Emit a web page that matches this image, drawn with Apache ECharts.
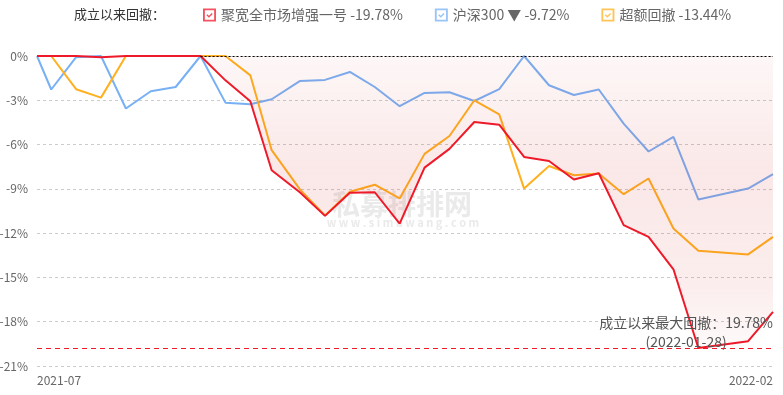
<!DOCTYPE html>
<html><head><meta charset="utf-8">
<script src="https://cdn.jsdelivr.net/npm/echarts@6/dist/echarts.min.js"></script>
<style>html,body{margin:0;padding:0;background:#fff}#c{width:783px;height:395px}</style>
</head><body><div id="c"></div>
<script>
const dates = ['2021-07-26','2021-07-30','2021-08-06','2021-08-13','2021-08-20','2021-08-27','2021-09-03','2021-09-10','2021-09-17','2021-09-24','2021-09-30','2021-10-08','2021-10-15','2021-10-22','2021-10-29','2021-11-05','2021-11-12','2021-11-19','2021-11-26','2021-12-03','2021-12-10','2021-12-17','2021-12-24','2021-12-31','2022-01-07','2022-01-14','2022-01-21','2022-01-28','2022-02-11','2022-02-18'];
const fundDD = [0,0,0,-0.08,0,0,0,0,-1.65,-3.07,-7.74,-9.25,-10.83,-9.27,-9.23,-11.35,-7.56,-6.29,-4.47,-4.65,-6.84,-7.11,-8.37,-7.94,-11.46,-12.25,-14.45,-19.78,-19.32,-17.33];
const hs300DD = [0,-2.27,-0.08,0,-3.56,-2.39,-2.1,0,-3.16,-3.27,-2.93,-1.69,-1.62,-1.08,-2.1,-3.4,-2.5,-2.46,-3.05,-2.25,0,-1.98,-2.64,-2.27,-4.58,-6.47,-5.48,-9.72,-8.98,-8.0];
const excessDD = [0,0,-2.25,-2.82,0,0,0,0,0,-1.31,-6.38,-9.05,-10.8,-9.2,-8.72,-9.65,-6.63,-5.42,-3.0,-3.95,-8.98,-7.45,-8.08,-7.96,-9.36,-8.3,-11.69,-13.2,-13.44,-12.25];
const seriesNames = ['聚宽全市场增强一号','沪深300','超额回撤'];
const legendSuffix = [' -19.78%',' ▼ -9.72%',' -13.44%'];
const legendTitle = '成立以来回撤：';
const yMin = -21, yMax = 0, yInterval = 3;
const maxDD = -19.78;
const maxDDDate = '2022-01-28';

const ts = dates.map(d => Date.parse(d));
const pairs = arr => arr.map((v, i) => [ts[i], v]);
const troughIdx = dates.indexOf(maxDDDate);
let peakIdx = 0;
for (let i = 0; i <= troughIdx; i++) if (fundDD[i] === 0) peakIdx = i;
const fmtMonth = v => { const d = new Date(v); return d.getUTCFullYear() + '-' + String(d.getUTCMonth() + 1).padStart(2, '0'); };
const last = ts.length - 1;
const checkIcon = 'path://M0,0 H14 V14 H0 Z M2,2 V12 H12 V2 Z M3.6,7.2 L4.7,6.1 L6.4,7.8 L9.4,4.8 L10.5,5.9 L6.4,10 Z';
const FONT = "'Noto Sans CJK SC','Noto Sans',sans-serif";

const chart = echarts.init(document.getElementById('c'));
chart.setOption({
  animation: false,
  textStyle: { fontFamily: FONT },
  title: { text: legendTitle, left: 69, top: 3, textStyle: { fontSize: 13, fontWeight: 'normal', color: '#333', fontFamily: FONT } },
  legend: {
    left: 198, top: 3, itemWidth: 13, itemHeight: 13, itemGap: 32,
    icon: checkIcon,
    itemStyle: { borderWidth: 0, opacity: 0.75 },
    data: seriesNames,
    formatter: name => name + legendSuffix[seriesNames.indexOf(name)],
    textStyle: { color: '#666', fontSize: 14, fontFamily: FONT }
  },
  grid: { left: 37, right: 10, top: 56, bottom: 29, containLabel: false, outerBoundsMode: 'none' },
  xAxis: {
    type: 'value', min: ts[0], max: ts[last], interval: ts[last] - ts[0],
    axisLine: { show: false }, axisTick: { show: false }, splitLine: { show: false },
    axisLabel: { color: '#666', fontSize: 12, margin: 8, showMinLabel: true, showMaxLabel: true,
      alignMinLabel: 'left', alignMaxLabel: 'right',
      formatter: v => fmtMonth(v) }
  },
  yAxis: {
    type: 'value', min: yMin, max: yMax, interval: yInterval,
    axisLine: { show: false }, axisTick: { show: false },
    axisLabel: { color: '#666', fontSize: 12, margin: 9, formatter: '{value}%' },
    splitLine: { lineStyle: { color: '#ccc', type: [3, 3], width: 1 } }
  },
  graphic: [
    { type: 'text', x: 402, y: 190, z: -10, style: { text: '私募排排网', textAlign: 'center', fill: '#eaeaea', font: 'bold 28px ' + FONT } },
    { type: 'text', x: 403, y: 217, z: -10, style: { text: 'w w w . s i m u w a n g . c o m', textAlign: 'center', fill: '#eaeaea', font: 'bold 11px ' + FONT } }
  ],
  series: [
    { name: seriesNames[1], type: 'line', data: pairs(hs300DD), showSymbol: false, symbol: 'none', z: 2,
      lineStyle: { width: 2, color: '#78b0f5' }, itemStyle: { color: '#78b0f5' } },
    { name: seriesNames[2], type: 'line', data: pairs(excessDD), showSymbol: false, symbol: 'none', z: 3,
      lineStyle: { width: 2, color: '#ffb01f' }, itemStyle: { color: '#ffb01f' } },
    { name: seriesNames[0], type: 'line', data: pairs(fundDD), showSymbol: false, symbol: 'none', z: 4,
      lineStyle: { width: 2, color: '#ee1a2a' }, itemStyle: { color: '#ee1a2a' },
      areaStyle: { color: { type: 'linear', x: 0, y: 0, x2: 0, y2: 1, colorStops: [
        { offset: 0, color: 'rgba(210,30,30,0.05)' },
        { offset: 0.4, color: 'rgba(210,30,30,0.15)' },
        { offset: 0.8, color: 'rgba(210,30,30,0.11)' },
        { offset: 1, color: 'rgba(210,30,30,0.03)' } ] } },
      markLine: {
        silent: true, symbol: ['none', 'none'],
        data: [
          { yAxis: maxDD, lineStyle: { color: '#ee1a2a', type: [5, 4], width: 1 },
            label: { show: true, position: 'insideEndTop', distance: [0, -3],
              formatter: '{a|成立以来最大回撤：' + Math.abs(maxDD).toFixed(2) + '%}\n{b|(' + maxDDDate + ')}',
              rich: { a: { fontSize: 14, color: '#555', lineHeight: 19, fontFamily: FONT },
                      b: { fontSize: 14, color: '#555', lineHeight: 19, align: 'center', fontFamily: FONT } } } },
          [ { coord: [ts[peakIdx], 0], lineStyle: { color: '#000', type: [2, 2], width: 1 }, label: { show: false } },
            { coord: [ts[last], 0] } ]
        ]
      }
    }
  ]
});
</script></body></html>
